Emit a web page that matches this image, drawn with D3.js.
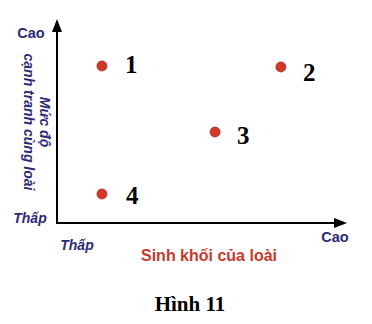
<!DOCTYPE html>
<html>
<head>
<meta charset="utf-8">
<script src="https://cdn.jsdelivr.net/npm/d3@7"></script>
<style>
  body { margin: 0; background: #fff; }
  svg { display: block; }
</style>
</head>
<body>
<div id="chart"></div>
<script>
// species (label), biomass (x) and intra-species competition (y), on a 0-10 scale
const labels = ["1", "2", "3", "4"]
const biomass = [1.55, 7.72, 5.45, 1.55]
const competition = [7.7, 7.65, 4.46, 1.42]
// where each number sits relative to its dot
const labelDx = [23, 22, 22, 24]
const labelDy = [7, 14, 12, 10]

const W = 372, H = 324
const x0 = 57, x1 = 347, y0 = 223, y1 = 19

const navy = "#2c2a78"
const red = "#d2382a"

const svg = d3.select("#chart")
    .append("svg")
    .attr("width", W)
    .attr("height", H)

const x = d3.scaleLinear().domain([0, 10]).range([x0, x1])
const y = d3.scaleLinear().domain([0, 10]).range([y0, y1])

// axes with arrow heads
svg.append("line")
    .attr("x1", x0).attr("y1", y0)
    .attr("x2", x0).attr("y2", y1 + 10)
    .attr("stroke", "#000").attr("stroke-width", 2)
svg.append("line")
    .attr("x1", x0 - 1).attr("y1", y0)
    .attr("x2", x1 - 10).attr("y2", y0)
    .attr("stroke", "#000").attr("stroke-width", 2)
svg.append("path")
    .attr("d", `M${x0},${y1} L${x0 - 5},${y1 + 13} L${x0 + 5},${y1 + 13} Z`)
    .attr("fill", "#000")
svg.append("path")
    .attr("d", `M${x1},${y0} L${x1 - 13},${y0 - 5} L${x1 - 13},${y0 + 5} Z`)
    .attr("fill", "#000")

const sans = "Liberation Sans, Arial, sans-serif"

// y axis end labels
svg.append("text")
    .attr("x", 31).attr("y", 38)
    .attr("text-anchor", "middle")
    .style("font", "bold 14.5px " + sans)
    .attr("fill", navy)
    .text("Cao")
svg.append("text")
    .attr("x", 30).attr("y", 223)
    .attr("text-anchor", "middle")
    .style("font", "italic bold 14px " + sans)
    .attr("fill", navy)
    .text("Thấp")

// y axis title, rotated clockwise
const yt = svg.append("text")
    .attr("transform", "translate(40,122) rotate(90)")
    .attr("text-anchor", "middle")
    .style("font", "italic bold 14px " + sans)
    .attr("fill", navy)
yt.append("tspan").attr("x", 0).attr("y", 0).text("Mức độ")
yt.append("tspan").attr("x", 0).attr("y", 16).text("cạnh tranh cùng loài")

// x axis end labels
svg.append("text")
    .attr("x", 77).attr("y", 250)
    .attr("text-anchor", "middle")
    .style("font", "italic bold 14px " + sans)
    .attr("fill", navy)
    .text("Thấp")
svg.append("text")
    .attr("x", 335).attr("y", 242)
    .attr("text-anchor", "middle")
    .style("font", "bold 14.5px " + sans)
    .attr("fill", navy)
    .text("Cao")

// x axis title
svg.append("text")
    .attr("x", 209).attr("y", 261)
    .attr("text-anchor", "middle")
    .style("font", "bold 16px " + sans)
    .attr("fill", "#c8392b")
    .text("Sinh khối của loài")

// points
svg.append("g")
    .selectAll("circle")
    .data(labels)
    .enter()
    .append("circle")
    .attr("cx", function (d, i) { return x(biomass[i]) })
    .attr("cy", function (d, i) { return y(competition[i]) })
    .attr("r", 5)
    .attr("fill", red)
    .attr("stroke", "#b02a20")
    .attr("stroke-width", 0.8)

svg.append("g")
    .selectAll("text")
    .data(labels)
    .enter()
    .append("text")
    .attr("x", function (d, i) { return x(biomass[i]) + labelDx[i] })
    .attr("y", function (d, i) { return y(competition[i]) + labelDy[i] })
    .style("font", "bold 25px 'Liberation Serif', 'DejaVu Serif', serif")
    .attr("fill", "#000")
    .text(function (d) { return d })

// caption
svg.append("text")
    .attr("x", 190).attr("y", 311)
    .attr("text-anchor", "middle")
    .style("font", "bold 21px 'Liberation Serif', 'DejaVu Serif', serif")
    .attr("fill", "#000")
    .text("Hình 11")
</script>
</body>
</html>
